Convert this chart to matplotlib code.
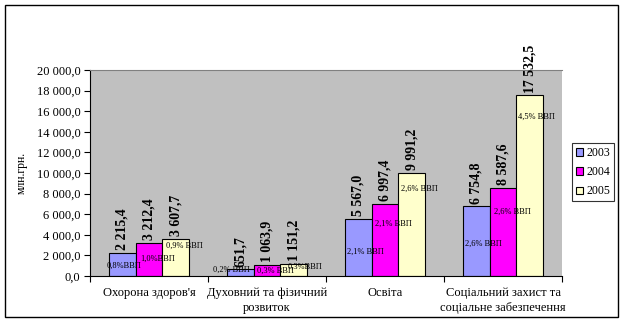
import matplotlib.pyplot as plt
import numpy as np
from matplotlib.patches import Rectangle

plt.rcParams['font.family'] = ['Liberation Serif', 'DejaVu Serif']

categories = ["Охорона здоров'я", "Духовний та фізичний\nрозвиток", "Освіта",
              "Соціальний захист та\nсоціальне забезпечення"]
years = ['2003', '2004', '2005']
values = {
    '2003': [2215.4, 651.7, 5567.0, 6754.8],
    '2004': [3212.4, 1063.9, 6997.4, 8587.6],
    '2005': [3607.7, 1151.2, 9991.2, 17532.5],
}
gdp_share = {
    '2003': ['0,8%ВВП', '0,2% ВВП', '2,1% ВВП', '2,6% ВВП'],
    '2004': ['1,0%ВВП', '0,3% ВВП', '2,1% ВВП', '2,6% ВВП'],
    '2005': ['0,9% ВВП', '0,3%ВВП', '2,6% ВВП', '4,5% ВВП'],
}
colors = {'2003': '#9999FF', '2004': '#FF00FF', '2005': '#FFFFCC'}

# where the small % labels sit (y in data units, x offset in points from bar left)
pct_y = {
    '2003': [970, 580, 2330, 3100],
    '2004': [1650, 490, 5050, 6200],
    '2005': [2910, 870, 8450, 15440],
}
pct_dx = {
    '2003': [-2, -14, 2, 2],
    '2004': [5, 3, 3, 4],
    '2005': [4, 7, 3, 2],
}


def fmt(v):
    s = f"{v:,.1f}"
    return s.replace(',', ' ').replace('.', ',')


fig = plt.figure(figsize=(6.24, 3.23), dpi=100)
fig.patches.append(Rectangle((5 / 624, 1 - 317 / 323), 613 / 624, 312 / 323,
                             transform=fig.transFigure, fill=False,
                             edgecolor='black', linewidth=1.0))
ax = fig.add_axes([90 / 624, 1 - 276 / 323, 472 / 624, 206 / 323])
ax.set_facecolor('#C0C0C0')

x = np.arange(len(categories))
w = 0.226
for i, yr in enumerate(years):
    pos = x + (i - 1) * w
    bars = ax.bar(pos, values[yr], width=w, color=colors[yr], edgecolor='black',
                  linewidth=0.8, label=yr, zorder=2)
    for j, b in enumerate(bars):
        v = values[yr][j]
        ax.annotate(fmt(v), (b.get_x() + w / 2, v), xytext=(0, 2),
                    textcoords='offset points', rotation=90, ha='center',
                    va='bottom', fontsize=10, fontweight='bold',
                    annotation_clip=False)
        ax.annotate(gdp_share[yr][j], (b.get_x(), pct_y[yr][j]),
                    xytext=(pct_dx[yr][j] * 0.72, 0), textcoords='offset points',
                    ha='left', va='center', fontsize=6, zorder=3,
                    annotation_clip=False)

ax.set_xlim(-0.5, 3.5)
ax.set_ylim(0, 20000)
ax.set_yticks(np.arange(0, 20001, 2000))
ax.set_yticklabels([fmt(t) for t in np.arange(0, 20001, 2000)], fontsize=9)
ax.set_xticks(x)
ax.set_xticklabels(categories, fontsize=9, linespacing=1.35)
ax.tick_params(axis='x', length=0, pad=8)
ax.set_xticks(np.arange(-0.5, 3.6, 1), minor=True)
ax.tick_params(axis='x', which='minor', length=4, direction='out', width=0.8)
ax.tick_params(axis='y', length=4, direction='out', width=0.8, pad=3)
ax.spines['top'].set_color('#808080')
ax.spines['right'].set_visible(False)
ax.spines['left'].set_linewidth(0.8)
ax.spines['bottom'].set_linewidth(0.8)
ax.set_ylabel('млн.грн.', fontsize=8.5, labelpad=6)

leg = ax.legend(loc='upper left', bbox_to_anchor=(572 / 624, 1 - 143 / 323),
                bbox_transform=fig.transFigure, fontsize=8.5, frameon=True,
                fancybox=False, edgecolor='black', handlelength=0.55,
                handleheight=0.55, handletextpad=0.3, borderpad=0.35,
                labelspacing=0.6, borderaxespad=0)
leg.get_frame().set_linewidth(0.8)

fig.savefig('out.png', dpi=100)
